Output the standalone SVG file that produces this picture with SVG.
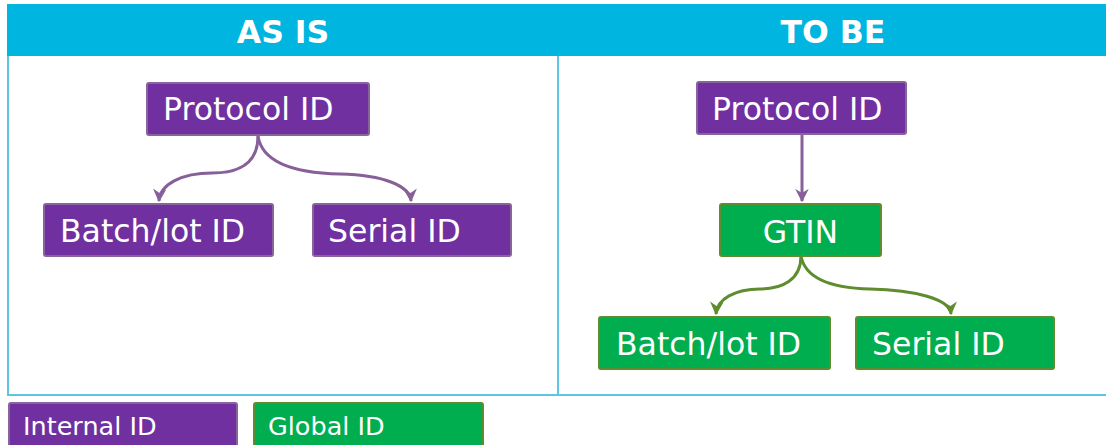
<svg xmlns="http://www.w3.org/2000/svg" width="1106" height="445" viewBox="0 0 1106 445">
<defs>
<style>
.frame{fill:none;stroke:#5BC5E3;stroke-width:2}
.hdr{fill:#00B5DF}
.htxt{font-family:"DejaVu Sans",Verdana,sans-serif;font-weight:bold;font-size:31.5px;fill:#fff;text-anchor:middle}
.pnode{fill:#7030A0;stroke:#87649C;stroke-width:2}
.gnode{fill:#00AE4F;stroke:#5F8C2E;stroke-width:2}
.ntxt{font-family:"DejaVu Sans",Verdana,sans-serif;font-size:31.5px;fill:#fff}
.ltxt{font-family:"DejaVu Sans",Verdana,sans-serif;font-size:25.5px;fill:#fff}
.pc{fill:none;stroke:#87609A;stroke-width:3}
.gc{fill:none;stroke:#5F8C2E;stroke-width:3}
</style>
<marker id="ap" viewBox="0 0 10 10" refX="9" refY="5" markerWidth="4.5" markerHeight="4.5" orient="auto" markerUnits="strokeWidth">
<path d="M0,0 L10,5 L0,10 L3,5 z" fill="#87609A"/>
</marker>
<marker id="ag" viewBox="0 0 10 10" refX="9" refY="5" markerWidth="4.5" markerHeight="4.5" orient="auto" markerUnits="strokeWidth">
<path d="M0,0 L10,5 L0,10 L3,5 z" fill="#5F8C2E"/>
</marker>
</defs>
<rect width="1106" height="445" fill="#fff"/>
<g id="frame">
<rect class="hdr" x="7" y="4" width="1099" height="52"/>
<path class="frame" d="M8,56 V395 H1106 M558,56 V395"/>
<text class="htxt" x="283" y="43">AS IS</text>
<text class="htxt" x="833" y="43">TO BE</text>
</g>
<g id="connectors">
<path class="pc" d="M258,136 C258,164 238,173 212,173 C182,173 160,184 159,201" marker-end="url(#ap)"/>
<path class="pc" d="M258,136 C262,162 292,173 340,174 C384,175 410,186 411,201" marker-end="url(#ap)"/>
<path class="pc" d="M802,135 V201" marker-end="url(#ap)"/>
<path class="gc" d="M801,256 C801,280 782,289 760,289 C735,289 717,299 716,314" marker-end="url(#ag)"/>
<path class="gc" d="M801,256 C805,278 830,288 870,289 C915,290 950,299 951,314" marker-end="url(#ag)"/>
</g>
<g id="asis-protocol"><rect class="pnode" x="147" y="83" width="222" height="52" rx="2"/><text class="ntxt" x="163" y="120">Protocol ID</text></g>
<g id="asis-batch"><rect class="pnode" x="44" y="204" width="229" height="52" rx="2"/><text class="ntxt" x="60" y="242">Batch/lot ID</text></g>
<g id="asis-serial"><rect class="pnode" x="313" y="204" width="198" height="52" rx="2"/><text class="ntxt" x="328" y="242">Serial ID</text></g>
<g id="tobe-protocol"><rect class="pnode" x="697" y="82" width="209" height="52" rx="2"/><text class="ntxt" x="712" y="120">Protocol ID</text></g>
<g id="tobe-gtin"><rect class="gnode" x="720" y="204" width="161" height="52" rx="2"/><text class="ntxt" x="800.5" y="243" text-anchor="middle">GTIN</text></g>
<g id="tobe-batch"><rect class="gnode" x="599" y="317" width="231" height="52" rx="2"/><text class="ntxt" x="616" y="355">Batch/lot ID</text></g>
<g id="tobe-serial"><rect class="gnode" x="856" y="317" width="198" height="52" rx="2"/><text class="ntxt" x="872" y="355">Serial ID</text></g>
<g id="legend-internal"><rect class="pnode" x="9" y="403" width="228" height="50" rx="2"/><text class="ltxt" x="23" y="435">Internal ID</text></g>
<g id="legend-global"><rect class="gnode" x="254" y="403" width="229" height="50" rx="2"/><text class="ltxt" x="268" y="435">Global ID</text></g>
</svg>
